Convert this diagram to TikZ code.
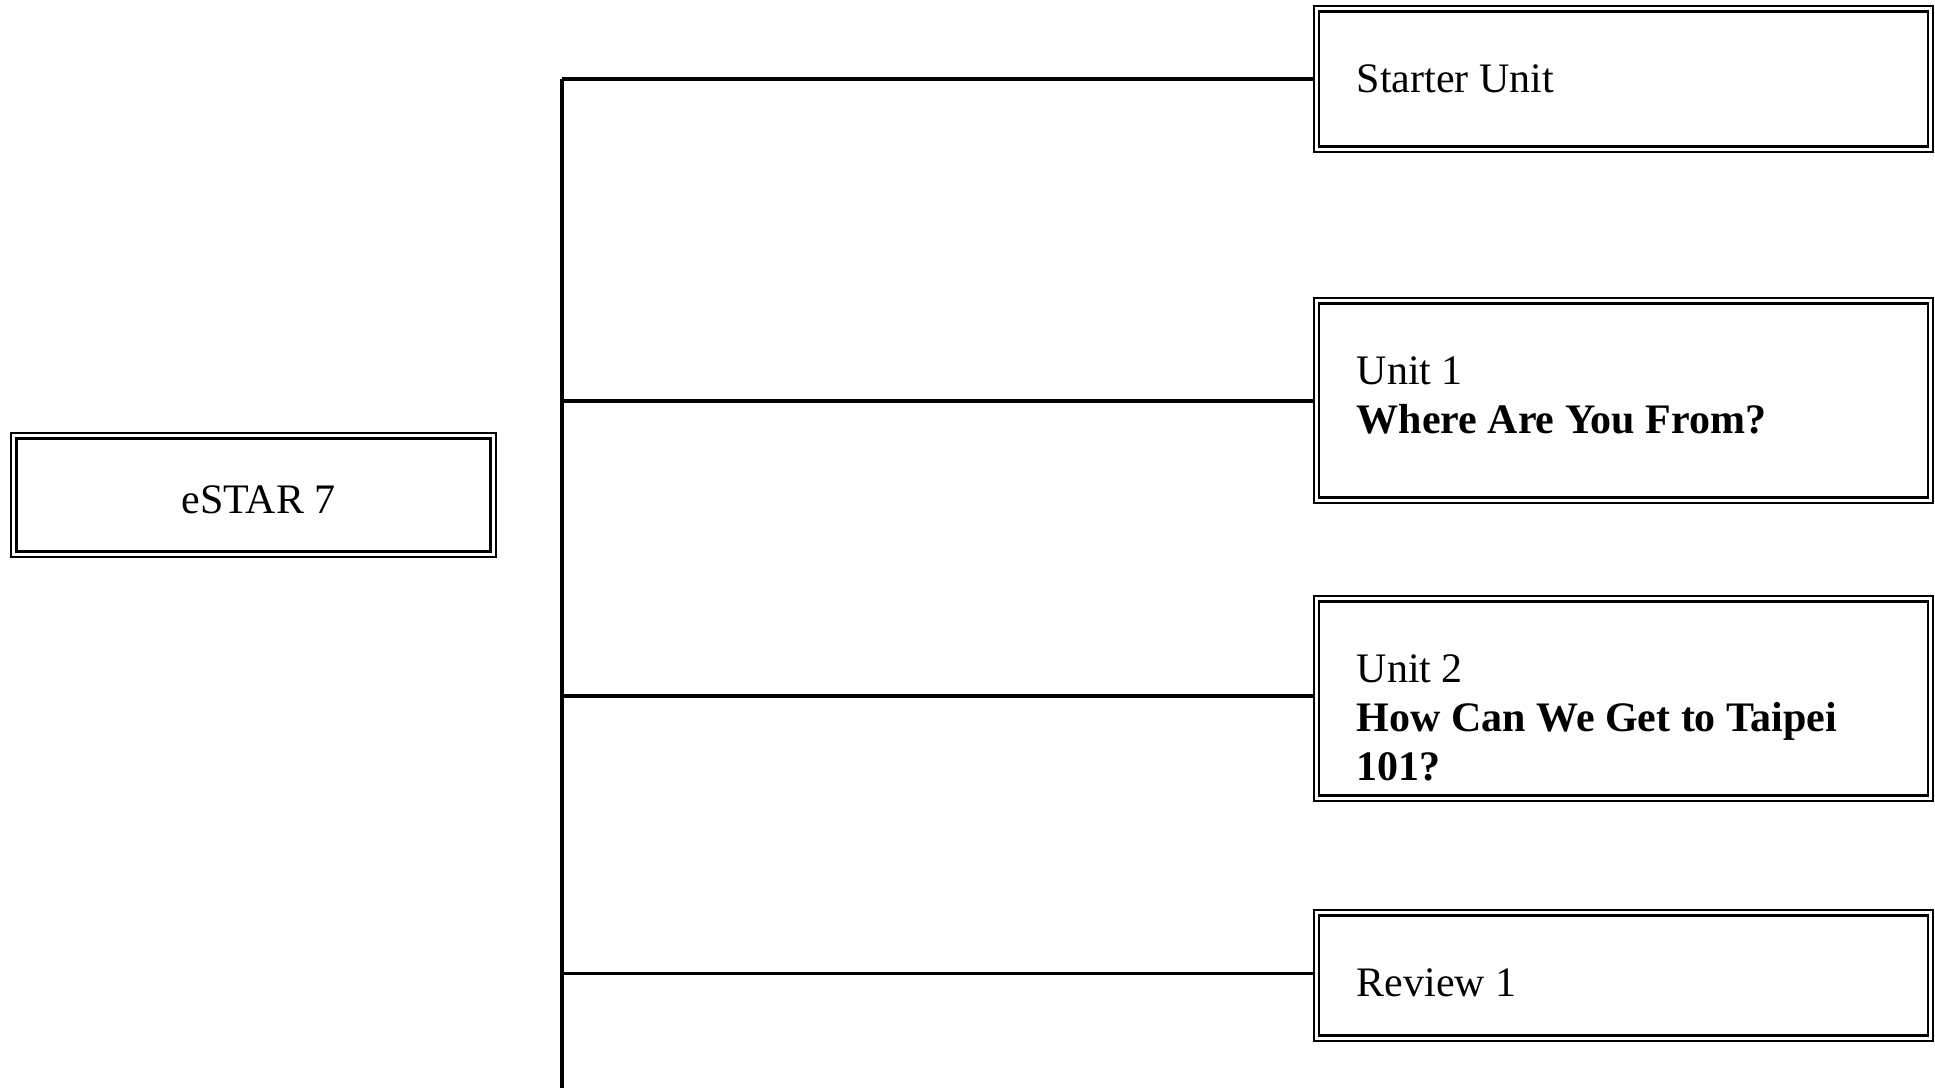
\documentclass[tikz,border=0pt]{standalone}
\usepackage{fontspec}
\setmainfont{Liberation Serif}
\begin{document}
\begin{tikzpicture}[x=1pt,y=-1pt,
  box/.style={draw, double, line width=2.4pt, double distance=3pt, rectangle, inner sep=0pt},
  conn/.style={line width=3.8pt},
  lbl/.style={anchor=north west, inner sep=0pt, align=left, font=\fontsize{42}{49}\selectfont}]
\fill[white] (0,0) rectangle (1935,1088);
\useasboundingbox (0,0) rectangle (1935,1088);
% unit boxes
\node[box, minimum width=614pt, minimum height=140.5pt] (s0) at (1623.5,79) {};
\node[lbl] (l0) at (1356.5,64) {Starter Unit};
\node[box, minimum width=614pt, minimum height=199.5pt] (s1) at (1623.5,400.5) {};
\node[lbl] (l1) at (1356.5,356) {Unit 1\\\textbf{Where Are You From?}};
\node[box, minimum width=614pt, minimum height=199.5pt] (s2) at (1623.5,698.5) {};
\node[lbl] (l2) at (1356.5,654) {Unit 2\\\textbf{How Can We Get to Taipei}\\\textbf{101?}};
\node[box, minimum width=614pt, minimum height=125.5pt] (s3) at (1623.5,975.5) {};
\node[lbl] (l3) at (1356.5,968) {Review 1};
% root
\node[box, minimum width=479.5pt, minimum height=118.5pt, text height=36pt, text depth=0pt, font=\fontsize{42}{49}\selectfont] (root) at (253.5,495) {\hspace*{10pt}eSTAR 7};
% trunk and branches
\coordinate (t0) at (562,79);
\coordinate (t1) at (562,400.7);
\coordinate (t2) at (562,695.7);
\coordinate (t3) at (562,973.5);
\coordinate (tb) at (562,1088);
\draw[conn] (t0) -- (tb);
\draw[conn] (t0) -- (t0 -| s0.west);
\draw[conn] (t1) -- (t1 -| s1.west);
\draw[conn] (t2) -- (t2 -| s2.west);
\draw[conn] (t3) -- (t3 -| s3.west);
\end{tikzpicture}
\end{document}
